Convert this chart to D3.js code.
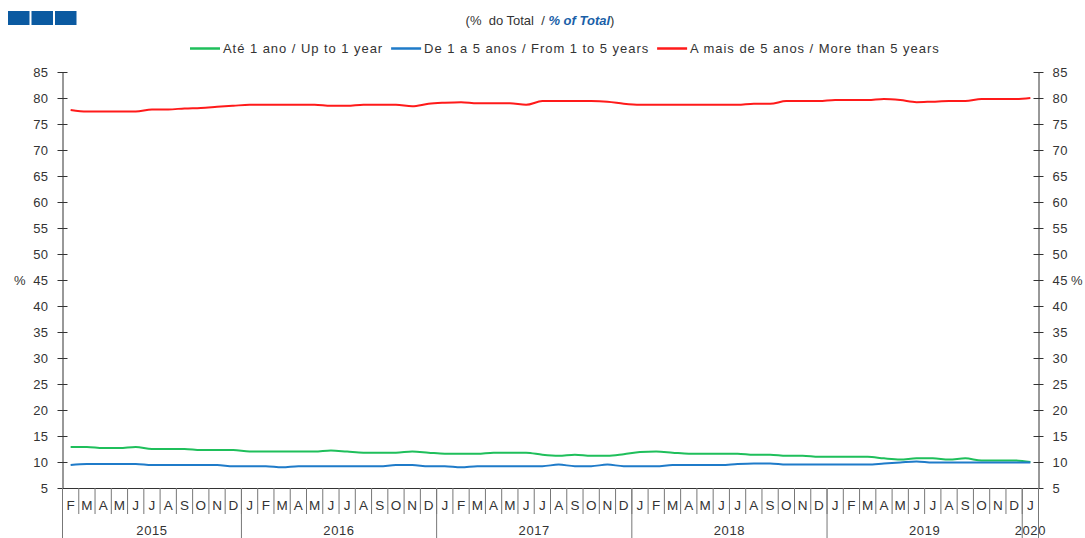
<!doctype html>
<html lang="pt">
<head>
<meta charset="utf-8">
<title>% do Total</title>
<style>
  body { margin: 0; background: #fff; }
  svg { font-family: "Liberation Sans", Arial, sans-serif; }
  .axis text { fill: #333; font-size: 13px; letter-spacing: 0.4px; }
  .axis path, .axis line { stroke: #333; }
</style>
</head>
<body>
<div id="mychart"></div>
<script src="https://d3js.org/d3.v7.min.js"></script>
<script>
// months Feb 2015 .. Jan 2020
var monthLabels = [
  "F","M","A","M","J","J","A","S","O","N","D",
  "J","F","M","A","M","J","J","A","S","O","N","D",
  "J","F","M","A","M","J","J","A","S","O","N","D",
  "J","F","M","A","M","J","J","A","S","O","N","D",
  "J","F","M","A","M","J","J","A","S","O","N","D",
  "J"
];
var years = ["2015","2016","2017","2018","2019","2020"];
var monthsPerYear = [11, 12, 12, 12, 12, 1];

var upTo1 = [
  12.9, 12.9, 12.7, 12.7, 12.9, 12.5, 12.5, 12.5, 12.3, 12.3, 12.3,
  12.0, 12.0, 12.0, 12.0, 12.0, 12.2, 12.0, 11.8, 11.8, 11.8, 12.0, 11.8,
  11.6, 11.6, 11.6, 11.8, 11.8, 11.8, 11.4, 11.2, 11.4, 11.2, 11.2, 11.5,
  11.9, 12.0, 11.8, 11.6, 11.6, 11.6, 11.6, 11.4, 11.4, 11.2, 11.2, 11.0,
  11.0, 11.0, 11.0, 10.7, 10.5, 10.7, 10.7, 10.5, 10.7, 10.3, 10.3, 10.3,
  10.0
];
var from1to5 = [
  9.4, 9.6, 9.6, 9.6, 9.6, 9.4, 9.4, 9.4, 9.4, 9.4, 9.2,
  9.2, 9.2, 9.0, 9.2, 9.2, 9.2, 9.2, 9.2, 9.2, 9.4, 9.4, 9.2,
  9.2, 9.0, 9.2, 9.2, 9.2, 9.2, 9.2, 9.5, 9.2, 9.2, 9.5, 9.2,
  9.2, 9.2, 9.4, 9.4, 9.4, 9.4, 9.6, 9.7, 9.7, 9.5, 9.5, 9.5,
  9.5, 9.5, 9.5, 9.7, 9.9, 10.1, 9.9, 9.9, 9.9, 9.9, 9.9, 9.9,
  9.9
];
var moreThan5 = [
  77.7, 77.4, 77.4, 77.4, 77.4, 77.8, 77.8, 78.0, 78.1, 78.3, 78.5,
  78.7, 78.7, 78.7, 78.7, 78.7, 78.5, 78.5, 78.7, 78.7, 78.7, 78.4, 78.9,
  79.1, 79.2, 79.0, 79.0, 79.0, 78.7, 79.4, 79.4, 79.4, 79.4, 79.3, 78.9,
  78.7, 78.7, 78.7, 78.7, 78.7, 78.7, 78.7, 78.9, 78.9, 79.4, 79.4, 79.4,
  79.6, 79.6, 79.6, 79.8, 79.6, 79.2, 79.3, 79.4, 79.4, 79.8, 79.8, 79.8,
  80.0
];
var yTicks = [5,10,15,20,25,30,35,40,45,50,55,60,65,70,75,80,85];

var series = [
  {name: "Até 1 ano / Up to 1 year", values: upTo1, color: "#1fbf5b"},
  {name: "De 1 a 5 anos / From 1 to 5 years", values: from1to5, color: "#1f7bc9"},
  {name: "A mais de 5 anos / More than 5 years", values: moreThan5, color: "#ff1a1a"}
];

var width = 1085, height = 538;
var svg = d3.select("#mychart").append("svg")
  .attr("width", width)
  .attr("height", height);

var plotLeft = 62.5, plotRight = 1038.5, plotTop = 72, plotBottom = 488;

var x = d3.scaleBand()
  .domain(d3.range(monthLabels.length))
  .range([plotLeft, plotRight])
  .padding(0);
var y = d3.scaleLinear()
  .domain([5, 85])
  .range([plotBottom, plotTop]);

// logo squares
svg.selectAll("rect.logo").data([0,1,2]).enter()
  .append("rect")
  .attr("x", function(d) { return 8 + d * 23.5; })
  .attr("y", 11)
  .attr("width", 21.5)
  .attr("height", 14)
  .attr("fill", "#0b5aa1");

// title
var title = svg.append("text")
  .attr("x", 540).attr("y", 25)
  .attr("text-anchor", "middle")
  .style("font-size", "13px")
  .style("white-space", "pre")
  .attr("fill", "#333");
title.append("tspan").text("(%  do Total  / ");
title.append("tspan").text("% of Total").attr("fill", "#1a5fa8")
  .style("font-weight", "bold").style("font-style", "italic");
title.append("tspan").text(")");

// legend
var lx = 190;
series.forEach(function(s) {
  svg.append("line")
    .attr("x1", lx).attr("x2", lx + 30)
    .attr("y1", 48.5).attr("y2", 48.5)
    .attr("stroke", s.color).attr("stroke-width", 2.5);
  var t = svg.append("text")
    .attr("x", lx + 33).attr("y", 53)
    .style("font-size", "13px")
    .style("letter-spacing", "0.95px")
    .attr("fill", "#333")
    .text(s.name);
  lx += 33 + t.node().getComputedTextLength() + 8;
});

// left axis
var yl = svg.append("g").attr("class", "axis")
  .attr("transform", "translate(" + plotLeft + ",0)")
  .call(d3.axisLeft(y).tickValues(yTicks).tickSize(5).tickSizeOuter(0).tickPadding(9));
yl.selectAll(".tick line").attr("x1", 5);

var yr = svg.append("g").attr("class", "axis")
  .attr("transform", "translate(" + plotRight + ",0)")
  .call(d3.axisRight(y).tickValues(yTicks).tickSize(5).tickSizeOuter(0).tickPadding(9));
yr.selectAll(".tick line").attr("x1", -5);

svg.append("text").attr("x", 14).attr("y", y(45) + 5)
  .style("font-size", "13px").attr("fill", "#333").text("%");
svg.append("text").attr("x", 1071).attr("y", y(45) + 5)
  .style("font-size", "13px").attr("fill", "#333").text("%");

// bottom: month labels
var xa = svg.append("g").attr("class", "axis")
  .attr("transform", "translate(0," + plotBottom + ")")
  .call(d3.axisBottom(x).tickSize(0).tickPadding(12)
    .tickFormat(function(d, i) { return monthLabels[i]; }));
xa.select(".domain").attr("stroke", "#777");
xa.selectAll("text").style("font-size", "13.5px").style("letter-spacing", "0px");

// month dividers
svg.selectAll("line.mdiv").data(d3.range(1, monthLabels.length)).enter()
  .append("line")
  .attr("x1", function(d) { return x(d); })
  .attr("x2", function(d) { return x(d); })
  .attr("y1", plotBottom).attr("y2", 514)
  .attr("stroke", "#777");

// year dividers and labels
var start = 0;
years.forEach(function(label, i) {
  var n = monthsPerYear[i];
  var x0 = x(start), x1 = x(start + n - 1) + x.bandwidth();
  svg.append("text")
    .attr("x", (x0 + x1) / 2).attr("y", 535)
    .attr("text-anchor", "middle")
    .style("font-size", "13px").style("letter-spacing", "0.6px")
    .attr("fill", "#333")
    .text(label);
  svg.append("line")
    .attr("x1", x0).attr("x2", x0)
    .attr("y1", plotBottom).attr("y2", height)
    .attr("stroke", "#777");
  start += n;
});
svg.append("line")
  .attr("x1", plotRight).attr("x2", plotRight)
  .attr("y1", plotBottom).attr("y2", height)
  .attr("stroke", "#777");

// lines
var line = d3.line()
  .x(function(d, i) { return x(i) + x.bandwidth() / 2; })
  .y(function(d) { return y(d); })
  .curve(d3.curveMonotoneX);

series.forEach(function(s) {
  svg.append("path")
    .datum(s.values)
    .attr("fill", "none")
    .attr("stroke", s.color)
    .attr("stroke-width", 2)
    .attr("d", line);
});
</script>
</body>
</html>
